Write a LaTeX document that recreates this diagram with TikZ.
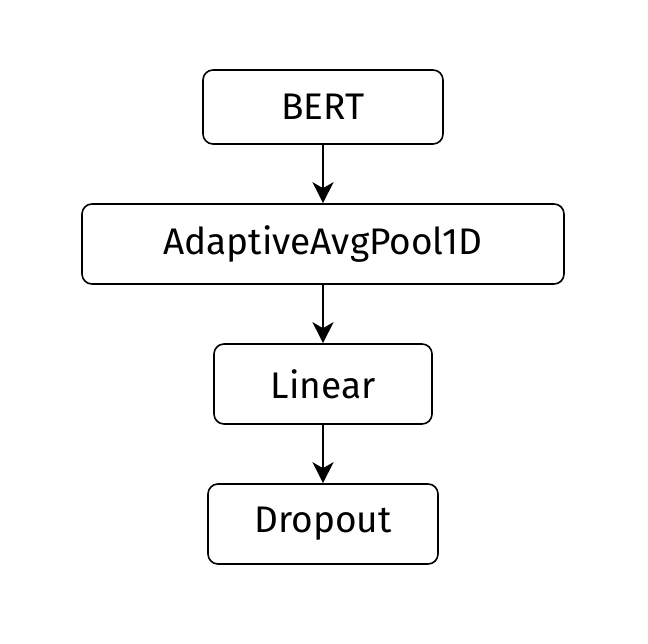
\documentclass[tikz,border=0pt]{standalone}
\usepackage{fontspec}
\setmainfont{Fira Sans}
\usetikzlibrary{arrows.meta}
\begin{document}
\begin{tikzpicture}[x=1pt,y=-1pt,
  box/.style={draw=black, line width=1.6pt, rounded corners=10pt, fill=white, inner sep=0pt, font=\fontsize{37}{40}\selectfont},
  arr/.style={-{Stealth[length=21pt,width=21pt,inset=6pt]}, line width=1.6pt}]
\useasboundingbox (0,0) rectangle (648,644);
\node[box, minimum width=240pt, minimum height=74pt] (bert) at (323,107) {BERT};
\node[box, minimum width=482pt, minimum height=80pt] (pool) at (323,244) {AdaptiveAvgPool1D};
\node[box, minimum width=218pt, minimum height=80pt] (lin) at (323,384) {Linear};
\node[box, minimum width=230pt, minimum height=80pt] (drop) at (323,524) {Dropout};
\draw[arr] (bert) -- (pool);
\draw[arr] (pool) -- (lin);
\draw[arr] (lin) -- (drop);
\end{tikzpicture}
\end{document}
